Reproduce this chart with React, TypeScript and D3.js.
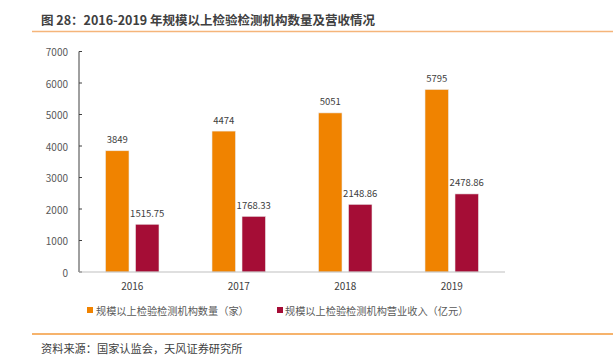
import React from "react";
import * as d3 from "d3";

const categories = ["2016", "2017", "2018", "2019"];
const seriesNames = ["规模以上检验检测机构数量（家）", "规模以上检验检测机构营业收入（亿元）"];
const countValues = [3849, 4474, 5051, 5795];
const revenueValues = [1515.75, 1768.33, 2148.86, 2478.86];
const revenueLabels = ["1515.75", "1768.33", "2148.86", "2478.86"];
const yTicks = [0, 1000, 2000, 3000, 4000, 5000, 6000, 7000];
const colors = ["#F08300", "#A50D36"];

const W = 613;
const H = 355;
const FONT = "'Noto Sans CJK SC', 'Noto Sans', sans-serif";

export default function App() {
  const x0 = d3.scaleBand<string>().domain(categories).range([79, 505]).paddingInner(0).paddingOuter(0);
  const x1 = d3.scaleBand<string>().domain(["a", "b"]).range([26.5, 80]).paddingInner(0.2167).paddingOuter(0);
  const y = d3.scaleLinear().domain([0, 7000]).range([272, 51.5]);

  const series = [
    { key: "a", values: countValues, labels: countValues.map(String), color: colors[0] },
    { key: "b", values: revenueValues, labels: revenueLabels, color: colors[1] },
  ];

  return (
    <svg width={W} height={H} style={{ position: "absolute", left: 0, top: 0, background: "#fff" }} fontFamily={FONT}>
      {/* title */}
      <text x={41} y={19} dominantBaseline="central" fontSize={12.5} fontWeight="bold" fill="#404040">
        图 28：2016-2019 年规模以上检验检测机构数量及营收情况
      </text>
      <line x1={32} x2={613} y1={31.5} y2={31.5} stroke="#F5B57A" strokeWidth={1.3} />

      {/* y axis */}
      <line x1={79} x2={79} y1={y(7000)} y2={y(0)} stroke="#404040" strokeWidth={1} />
      {yTicks.map((t) => (
        <g key={t}>
          <line x1={79} x2={82} y1={y(t)} y2={y(t)} stroke="#404040" strokeWidth={1} />
          <text x={68} y={y(t)} textAnchor="end" dominantBaseline="central" fontSize={10} fill="#595959">
            {t}
          </text>
        </g>
      ))}

      {/* bars */}
      {categories.map((c, i) => (
        <g key={c} transform={`translate(${x0(c)},0)`}>
          {series.map((s) => (
            <g key={s.key}>
              <rect
                x={x1(s.key)}
                y={y(s.values[i])}
                width={x1.bandwidth()}
                height={y(0) - y(s.values[i])}
                fill={s.color}
                stroke="#ececec"
                strokeWidth={0.6}
              />
              <text
                x={(x1(s.key) as number) + x1.bandwidth() / 2}
                y={y(s.values[i]) - 11.5}
                textAnchor="middle"
                dominantBaseline="central"
                fontSize={9.5}
                fill="#404040"
              >
                {s.labels[i]}
              </text>
            </g>
          ))}
          <text
            x={x0.bandwidth() / 2}
            y={285}
            textAnchor="middle"
            dominantBaseline="central"
            fontSize={10}
            fill="#404040"
          >
            {c}
          </text>
        </g>
      ))}

      {/* x axis */}
      <line x1={79} x2={505} y1={y(0)} y2={y(0)} stroke="#bfbfbf" strokeWidth={1} />

      {/* legend */}
      <rect x={87} y={307} width={6} height={6} fill={colors[0]} />
      <text x={96} y={310} dominantBaseline="central" fontSize={10.2} fill="#595959">
        {seriesNames[0]}
      </text>
      <rect x={277} y={307} width={6} height={6} fill={colors[1]} />
      <text x={285} y={310} dominantBaseline="central" fontSize={10.2} fill="#595959">
        {seriesNames[1]}
      </text>

      <line x1={32} x2={613} y1={334} y2={334} stroke="#F39A3B" strokeWidth={1.3} />
      <text x={41} y={347.5} dominantBaseline="central" fontSize={11.2} fill="#404040">
        资料来源：国家认监会，天风证券研究所
      </text>
    </svg>
  );
}
